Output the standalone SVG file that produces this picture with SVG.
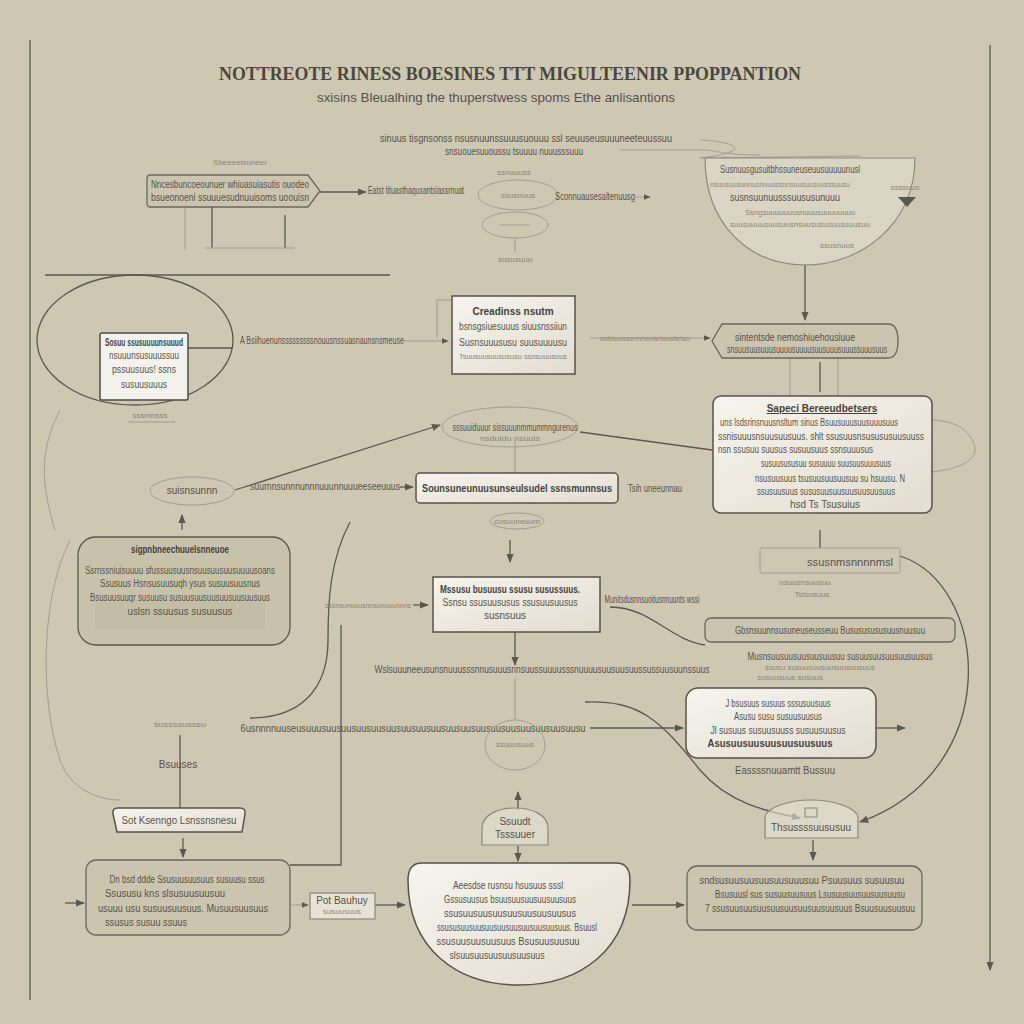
<svg xmlns="http://www.w3.org/2000/svg" width="1024" height="1024" viewBox="0 0 1024 1024">
<defs>
<marker id="ah" viewBox="0 0 10 10" refX="9" refY="5" markerWidth="7" markerHeight="7" orient="auto-start-reverse"><path d="M0,1 L10,5 L0,9 z" fill="#5c5850"/></marker>
<linearGradient id="wg" x1="0" y1="0" x2="1" y2="1"><stop offset="0" stop-color="#f6f4ee"/><stop offset="1" stop-color="#e2ddd0"/></linearGradient>
<style>
.t{font-family:"Liberation Sans",Arial,sans-serif;fill:#57534b;font-size:10px}
.tb{font-family:"Liberation Sans",Arial,sans-serif;fill:#45423c;font-size:10px;font-weight:bold}
.tf{font-family:"Liberation Sans",Arial,sans-serif;fill:#8a857a;font-size:8px}
.ln{fill:none;stroke:#5c5850;stroke-width:1.3}
.lf{fill:none;stroke:#a39e91;stroke-width:1}
.bw{fill:url(#wg);stroke:#57534b;stroke-width:1.5}
.bp{fill:#cbc4ae;stroke:#6b675e;stroke-width:1.3}
.bg{fill:#e6e2d6;stroke:#8d887c;stroke-width:1.2}
</style>
</defs>
<rect width="1024" height="1024" fill="#cec7b2"/>
<g id="frame">
<line x1="30" y1="40" x2="30" y2="1000" class="ln"/>
<line x1="990" y1="45" x2="990" y2="970" class="ln" marker-end="url(#ah)"/>
</g>
<g id="title">
<text x="510" y="80" text-anchor="middle" font-family="Liberation Serif,serif" font-weight="bold" font-size="19" fill="#4a4741" textLength="582" lengthAdjust="spacingAndGlyphs">NOTTREOTE RINESS BOESINES TTT MIGULTEENIR PPOPPANTION</text>
<text x="496" y="102" text-anchor="middle" font-family="Liberation Sans,sans-serif" font-size="13" fill="#55524b" textLength="358" lengthAdjust="spacingAndGlyphs">sxisins Bleualhing the thuperstwess spoms Ethe anlisantions</text>
</g>
<g id="connectors">
<line x1="320" y1="192" x2="366" y2="192" class="ln" marker-end="url(#ah)"/>
<line x1="185" y1="207" x2="185" y2="250" class="lf"/>
<line x1="212" y1="207" x2="212" y2="248" class="ln"/>
<line x1="285" y1="215" x2="285" y2="248" class="ln"/>
<line x1="205" y1="248" x2="295" y2="248" class="lf"/>
<line x1="515" y1="238" x2="515" y2="252" class="lf"/>
<line x1="45" y1="275" x2="390" y2="275" class="ln"/>
<path d="M700 140 C 740 142, 752 152, 700 158 L 860 156" class="lf"/>
<path d="M620 150 L 700 150 C 720 150, 720 155, 760 155" class="lf"/>
<line x1="805" y1="265" x2="805" y2="320" class="ln" marker-end="url(#ah)"/>
<line x1="820" y1="362" x2="820" y2="392" class="ln"/>
<line x1="790" y1="358" x2="790" y2="395" class="lf"/>
<line x1="838" y1="358" x2="838" y2="395" class="lf"/>
<ellipse cx="135" cy="340" rx="98" ry="65" class="ln"/>
<line x1="188" y1="348" x2="233" y2="348" class="ln"/>
<line x1="403" y1="341" x2="448" y2="341" class="lf" marker-end="url(#ah)"/>
<line x1="590" y1="338" x2="710" y2="338" class="lf" marker-end="url(#ah)"/>
<path d="M437 338 L 437 300 L 452 300" class="lf"/>
<line x1="182" y1="530" x2="182" y2="515" class="ln" marker-end="url(#ah)"/>
<line x1="235" y1="490" x2="440" y2="425" class="ln" marker-end="url(#ah)"/>
<line x1="580" y1="432" x2="712" y2="450" class="ln"/>
<line x1="400" y1="487" x2="413" y2="487" class="ln" marker-end="url(#ah)"/>
<line x1="515" y1="440" x2="515" y2="473" class="lf"/>
<line x1="510" y1="540" x2="510" y2="562" class="ln" marker-end="url(#ah)"/>
<line x1="413" y1="605" x2="428" y2="605" class="ln" marker-end="url(#ah)"/>
<path d="M350 522 C 330 560, 328 600, 328 640 C 328 690, 300 718, 250 718" class="ln"/>
<path d="M60 410 C 40 450, 40 480, 55 530" class="lf"/>
<path d="M70 540 C 40 600, 40 700, 60 760 C 70 790, 100 800, 120 800" class="lf"/>
<path d="M341 625 L 341 865 L 290 865" class="ln"/>
<line x1="515" y1="632" x2="515" y2="665" class="ln" marker-end="url(#ah)"/>
<line x1="515" y1="678" x2="515" y2="720" class="lf"/>
<path d="M610 607 C 650 607, 670 640, 705 645" class="ln"/>
<line x1="820" y1="530" x2="820" y2="548" class="ln"/>
<path d="M900 556 C 990 585, 1005 770, 860 822" class="ln" marker-end="url(#ah)"/>
<path d="M585 702 C 640 700, 660 720, 700 770 C 730 805, 770 812, 800 818" class="ln" marker-end="url(#ah)"/>
<line x1="590" y1="728" x2="683" y2="728" class="ln" marker-end="url(#ah)"/>
<line x1="876" y1="728" x2="905" y2="728" class="ln" marker-end="url(#ah)"/>
<line x1="180" y1="735" x2="180" y2="808" class="ln"/>
<line x1="183" y1="838" x2="183" y2="857" class="ln" marker-end="url(#ah)"/>
<line x1="65" y1="903" x2="84" y2="903" class="ln" marker-end="url(#ah)"/>
<line x1="290" y1="905" x2="308" y2="905" class="lf" marker-end="url(#ah)"/>
<line x1="375" y1="905" x2="405" y2="905" class="ln" marker-end="url(#ah)"/>
<line x1="518" y1="810" x2="518" y2="792" class="ln" marker-end="url(#ah)"/>
<line x1="518" y1="846" x2="518" y2="861" class="ln" marker-end="url(#ah)"/>
<line x1="632" y1="905" x2="684" y2="905" class="ln" marker-end="url(#ah)"/>
<line x1="813" y1="840" x2="813" y2="860" class="ln" marker-end="url(#ah)"/>
<line x1="635" y1="197" x2="650" y2="197" class="lf" marker-end="url(#ah)"/>
</g>
<g id="n-topleft">
<text x="240" y="165" text-anchor="middle" class="tf">Sbeeeeisuneer</text>
<path d="M150 175 H308 L320 191 L308 207 H150 Q147 207 147 203 V179 Q147 175 150 175 Z" class="bp"/>
<text x="230" y="188" text-anchor="middle" class="t" font-size="9" textLength="158" lengthAdjust="spacingAndGlyphs">Nncesbuncoeounuer whiuasuiasutis ouodeo</text>
<text x="230" y="201" text-anchor="middle" class="t" font-size="9" textLength="158" lengthAdjust="spacingAndGlyphs">bsueonoeni ssuuuesudnuuisoms uoouisn</text>
<text x="416" y="194" text-anchor="middle" class="t" font-size="9" textLength="96" lengthAdjust="spacingAndGlyphs">Eatst tituasthaqusantsiassrnuat</text>
</g>
<g id="n-topcenter">
<text x="526" y="142" text-anchor="middle" class="t" font-size="9" textLength="292" lengthAdjust="spacingAndGlyphs">sinuus tisgnsonss nsusnuunssuuusuouuu ssl seuuseusuuuneeteuussuu</text>
<text x="514" y="155" text-anchor="middle" class="t" font-size="9" textLength="138" lengthAdjust="spacingAndGlyphs">snsuouesuuoussu tsuuuu nuuusssuuu</text>
<text x="514" y="175" text-anchor="middle" class="tf">ssnuuuss</text>
<ellipse cx="518" cy="195" rx="40" ry="15" class="lf"/>
<text x="518" y="198" text-anchor="middle" class="tf">ssusnuus</text>
<ellipse cx="515" cy="225" rx="33" ry="13" class="lf"/>
<line x1="500" y1="225" x2="530" y2="225" class="lf"/>
<text x="515" y="262" text-anchor="middle" class="tf">sususuuu</text>
<text x="595" y="200" text-anchor="middle" class="t" font-size="9" textLength="80" lengthAdjust="spacingAndGlyphs">Sconnuausesaltenuusg</text>
</g>
<g id="n-topright">
<path d="M705 158 H915 C915 225, 860 265, 805 265 C 750 265, 705 225, 705 158 Z" class="bg" fill-opacity="0.5"/>
<text x="790" y="173" text-anchor="middle" class="t" font-size="9" textLength="140" lengthAdjust="spacingAndGlyphs">Susnuusgusuitbhssuneuseuusuuuuunusl</text>
<text x="780" y="187" text-anchor="middle" class="tf" textLength="140" lengthAdjust="spacingAndGlyphs">nsuusuusuunusnuuussunsuusuusuusssuusu</text>
<text x="785" y="201" text-anchor="middle" class="t" font-size="9" textLength="110" lengthAdjust="spacingAndGlyphs">susnsuunuusssuususunuuu</text>
<text x="800" y="215" text-anchor="middle" class="tf" textLength="110" lengthAdjust="spacingAndGlyphs">Ssngsuuuuuuusnuuusuuuuuuuu</text>
<text x="800" y="227" text-anchor="middle" class="tf" textLength="140" lengthAdjust="spacingAndGlyphs">suusuuuusuusuusnsuusususuusuuusuu</text>
<text x="837" y="248" text-anchor="middle" class="tf">ssusnuus</text>
<text x="905" y="190" text-anchor="middle" class="tf" font-size="7">ssssuus</text>
<path d="M898 197 L916 197 L907 207 Z" fill="#5c5850"/>
</g>
<g id="n-center1">
<rect x="452" y="296" width="123" height="78" class="bw"/>
<text x="513" y="315" text-anchor="middle" class="tb" font-size="9">Creadinss nsutm</text>
<text x="513" y="330" text-anchor="middle" class="t" font-size="8.5" textLength="108" lengthAdjust="spacingAndGlyphs">bsnsgsiuesuuus siuusnssiiun</text>
<text x="513" y="346" text-anchor="middle" class="t" font-size="8.5" textLength="108" lengthAdjust="spacingAndGlyphs">Susnsuuususu suusuuuusu</text>
<text x="513" y="359" text-anchor="middle" class="tf" textLength="108" lengthAdjust="spacingAndGlyphs">Tsuusuusuusususu ssnsuuusuus</text>
</g>
<g id="n-leftbox">
<rect x="100" y="333" width="88" height="67" rx="2" fill="#f4f2ec" stroke="#4f4c45" stroke-width="1.5"/>
<text x="144" y="346" text-anchor="middle" class="tb" font-size="8" textLength="78" lengthAdjust="spacingAndGlyphs">Sosuu ssusuuuunsuuud</text>
<text x="144" y="359" text-anchor="middle" class="t" font-size="8" textLength="70" lengthAdjust="spacingAndGlyphs">nsuuunsusuuussuu</text>
<text x="144" y="373" text-anchor="middle" class="t" font-size="8" textLength="64" lengthAdjust="spacingAndGlyphs">pssuusuus! ssns</text>
<text x="144" y="388" text-anchor="middle" class="t" font-size="8" textLength="46" lengthAdjust="spacingAndGlyphs">susuusuuus</text>
<text x="150" y="418" text-anchor="middle" class="tf">sssmnsss</text>
<line x1="128" y1="422" x2="175" y2="422" class="lf"/>
<text x="322" y="344" text-anchor="middle" class="t" font-size="9" textLength="164" lengthAdjust="spacingAndGlyphs">A Bsiihuenunsssssssssnouusnssuasnaunsnsmeuse</text>
</g>
<g id="n-pill">
<path d="M722 324 H888 Q898 324 898 341 Q898 358 888 358 H722 L712 341 Z" class="bp"/>
<text x="795" y="341" text-anchor="middle" class="t" font-size="8.5" textLength="120" lengthAdjust="spacingAndGlyphs">sintentsde nemoshiuehousiuue</text>
<text x="807" y="353" text-anchor="middle" class="t" font-size="8" textLength="160" lengthAdjust="spacingAndGlyphs">snsuusuusuuusuuuusuuuusuusuuusuuussuuusuus</text>
<text x="645" y="341" text-anchor="middle" class="tf" textLength="90" lengthAdjust="spacingAndGlyphs">sobiuussernnenteloustelsn</text>
</g>
<g id="n-leftellipse">
<ellipse cx="192" cy="491" rx="42" ry="14" class="lf"/>
<text x="192" y="494" text-anchor="middle" class="t" font-size="8">suisnsunnn</text>
</g>
<g id="n-centerellipse">
<ellipse cx="510" cy="427" rx="68" ry="20" class="lf"/>
<text x="515" y="431" text-anchor="middle" class="t" font-size="8.5" textLength="125" lengthAdjust="spacingAndGlyphs">sssuuiduuur sissuuunmmummngurenus</text>
<text x="510" y="441" text-anchor="middle" class="tf" textLength="60" lengthAdjust="spacingAndGlyphs">nsduidu  nsuuis</text>
</g>
<g id="n-centerbar">
<text x="325" y="490" text-anchor="middle" class="t" font-size="9" textLength="150" lengthAdjust="spacingAndGlyphs">suurnnsunnnunnnuuunnuuueeseeuuus</text>
<rect x="416" y="473" width="202" height="30" rx="4" class="bw"/>
<text x="517" y="492" text-anchor="middle" class="tb" font-size="8.5" textLength="190" lengthAdjust="spacingAndGlyphs">Sounsuneunuusunseulsudel ssnsmunnsus</text>
<text x="655" y="492" text-anchor="middle" class="t" font-size="8.5" textLength="54" lengthAdjust="spacingAndGlyphs">Tsih uneeunnau</text>
<ellipse cx="517" cy="521" rx="27" ry="8" class="lf"/>
<text x="517" y="524" text-anchor="middle" class="tf">cusuuneuum</text>
</g>
<g id="n-rightbig">
<path d="M930 420 C 965 420, 975 440, 975 450 C 975 462, 955 470, 930 472" class="lf"/>
<rect x="713" y="396" width="219" height="117" rx="8" class="bw"/>
<text x="822" y="412" text-anchor="middle" class="tb" font-size="9.5" text-decoration="underline">Sapeci Bereeudbetsers</text>
<text x="720" y="426" class="t" font-size="8.5" textLength="178" lengthAdjust="spacingAndGlyphs">uns lsdsrinsnuusnsltum sinus Bsuusuuusuusuuusuus</text>
<text x="718" y="440" class="t" font-size="8.5" textLength="206" lengthAdjust="spacingAndGlyphs">ssnisuuusnsuusuusuus. shlt ssusuusnsusususuusuuss</text>
<text x="718" y="453" class="t" font-size="8.5" textLength="155" lengthAdjust="spacingAndGlyphs">nsn ssusuu suusus susuusuus ssnsuuusus</text>
<text x="826" y="467" text-anchor="middle" class="t" font-size="8.5" textLength="130" lengthAdjust="spacingAndGlyphs">susuusususuu susuuuu suusuusuuusuus</text>
<text x="830" y="482" text-anchor="middle" class="t" font-size="8.5" textLength="150" lengthAdjust="spacingAndGlyphs">nsusuusuus tsusuusuusuusuu su hsuusu. N</text>
<text x="826" y="495" text-anchor="middle" class="t" font-size="8.5" textLength="138" lengthAdjust="spacingAndGlyphs">ssusuusuus sususuusuusuusuusuusuus</text>
<text x="825" y="508" text-anchor="middle" class="t" font-size="8.5">hsd Ts Tsusuius</text>
</g>
<g id="n-leftmid">
<rect x="78" y="537" width="212" height="108" rx="18" fill="#c9c2ab" stroke="#5c5850" stroke-width="1.3"/>
<rect x="95" y="600" width="170" height="30" fill="#c4bda5"/>
<text x="180" y="553" text-anchor="middle" class="tb" font-size="8.5" textLength="98" lengthAdjust="spacingAndGlyphs">sigpnbneechuuelsnneuoe</text>
<text x="180" y="574" text-anchor="middle" class="t" font-size="8.5" textLength="190" lengthAdjust="spacingAndGlyphs">Ssrnssniuisuuuu sfussuusuusnsuusuusuusuuuusoans</text>
<text x="180" y="587" text-anchor="middle" class="t" font-size="8.5" textLength="160" lengthAdjust="spacingAndGlyphs">Ssusuus Hsnsusuusuqh ysus susuusuusnus</text>
<text x="180" y="601" text-anchor="middle" class="t" font-size="8.5" textLength="180" lengthAdjust="spacingAndGlyphs">Bsusuusuuqr susuusu susuusuusuusuusuusuusuus</text>
<text x="180" y="615" text-anchor="middle" class="t" font-size="8.5" textLength="105" lengthAdjust="spacingAndGlyphs">uslsn ssuusus susuusus</text>
</g>
<g id="n-center2">
<text x="368" y="608" text-anchor="middle" class="tf" textLength="86" lengthAdjust="spacingAndGlyphs">sssnsunuuusnnsunuuunnns</text>
<rect x="433" y="577" width="167" height="55" class="bw"/>
<text x="510" y="593" text-anchor="middle" class="tb" font-size="8.5" textLength="140" lengthAdjust="spacingAndGlyphs">Mssusu busuusu ssusu susussuus.</text>
<text x="510" y="606" text-anchor="middle" class="t" font-size="8.5" textLength="135" lengthAdjust="spacingAndGlyphs">Ssnsu ssusuususus ssusuusuusus</text>
<text x="505" y="619" text-anchor="middle" class="t" font-size="8.5">susnsuus</text>
<text x="652" y="603" text-anchor="middle" class="t" font-size="8.5" textLength="95" lengthAdjust="spacingAndGlyphs">Munitsdusnnsuoitusnnuunts wssi</text>
</g>
<g id="n-rightsmall">
<rect x="760" y="548" width="140" height="25" rx="2" class="lf" fill="#d4cebb"/>
<text x="850" y="566" text-anchor="middle" class="t" font-size="8.5" textLength="86" lengthAdjust="spacingAndGlyphs">ssusnmsnnnnmsl</text>
<text x="805" y="585" text-anchor="middle" class="tf">nsuusnsuusuu</text>
<text x="812" y="597" text-anchor="middle" class="tf">Tslsusuus</text>
</g>
<g id="n-rightbar">
<rect x="705" y="618" width="250" height="24" rx="6" class="bp"/>
<text x="830" y="634" text-anchor="middle" class="t" font-size="9" textLength="190" lengthAdjust="spacingAndGlyphs">Gbsnsuunnsusuneuseusseuu Busususususuusnuusuu</text>
<text x="840" y="660" text-anchor="middle" class="t" font-size="8.5" textLength="185" lengthAdjust="spacingAndGlyphs">Musnsuusuusuusuusuusuu susuusuusuusuusuusus</text>
<text x="820" y="670" text-anchor="middle" class="tf" textLength="110" lengthAdjust="spacingAndGlyphs">ssusu susuusuusuusuusuusuus</text>
<text x="790" y="680" text-anchor="middle" class="tf">susuusuus susuus</text>
</g>
<g id="n-rightmid">
<rect x="686" y="688" width="190" height="70" rx="12" class="bw"/>
<text x="778" y="707" text-anchor="middle" class="t" font-size="8.5" textLength="105" lengthAdjust="spacingAndGlyphs">J bsusuus susuus sssusuusuus</text>
<text x="778" y="720" text-anchor="middle" class="t" font-size="8.5" textLength="88" lengthAdjust="spacingAndGlyphs">Asusu susu susuusuusus</text>
<text x="778" y="734" text-anchor="middle" class="t" font-size="8.5" textLength="135" lengthAdjust="spacingAndGlyphs">Jl susuus susuusuuss susuusuusus</text>
<text x="770" y="747" text-anchor="middle" class="tb" font-size="8.5" textLength="125" lengthAdjust="spacingAndGlyphs">Asusuusuusuusuusuusuus</text>
<text x="785" y="774" text-anchor="middle" class="t" font-size="8.5" textLength="100" lengthAdjust="spacingAndGlyphs">Eassssnuuamtt Bussuu</text>
</g>
<g id="n-midlabels">
<text x="542" y="673" text-anchor="middle" class="t" font-size="9" textLength="335" lengthAdjust="spacingAndGlyphs">Wslsuuuneeusunsnuuusssnnusuuusnnsuussuuuusssnuuuusuusuusuussussuusuunssuus</text>
<text x="413" y="732" text-anchor="middle" class="t" font-size="9" textLength="345" lengthAdjust="spacingAndGlyphs">6usnnnnuuseusuuusuusuusuusuusuusuusuusuusuusuusuusuusuusuusuusuusuusu</text>
<text x="180" y="727" text-anchor="middle" class="tf" textLength="52" lengthAdjust="spacingAndGlyphs">sussssusssu</text>
<text x="178" y="768" text-anchor="middle" class="t" font-size="8.5">Bsuuses</text>
<ellipse cx="515" cy="745" rx="30" ry="25" class="lf"/>
<text x="515" y="747" text-anchor="middle" class="tf">ssuuusuus</text>
</g>
<g id="n-sotbox">
<path d="M118 808 H240 Q246 808 245 814 L242 832 H117 L113 814 Q112 808 118 808 Z" class="bw"/>
<text x="179" y="824" text-anchor="middle" class="t" font-size="9" textLength="115" lengthAdjust="spacingAndGlyphs">Sot Ksenngo Lsnssnsnesu</text>
</g>
<g id="n-bottomleft">
<rect x="86" y="860" width="204" height="75" rx="10" class="bp"/>
<text x="187" y="883" text-anchor="middle" class="t" font-size="8.5" textLength="155" lengthAdjust="spacingAndGlyphs">Dn bsd ddde Ssusuusuusuus susuusu ssus</text>
<text x="165" y="897" text-anchor="middle" class="t" font-size="8.5" textLength="120" lengthAdjust="spacingAndGlyphs">Ssususu kns slsusuusuusuu</text>
<text x="183" y="912" text-anchor="middle" class="t" font-size="8.5" textLength="170" lengthAdjust="spacingAndGlyphs">usuuu usu susuusuusuus. Musuusuusuus</text>
<text x="146" y="926" text-anchor="middle" class="t" font-size="8.5" textLength="82" lengthAdjust="spacingAndGlyphs">ssusus susuu ssuus</text>
</g>
<g id="n-potbox">
<rect x="310" y="893" width="65" height="26" class="bg"/>
<text x="342" y="904" text-anchor="middle" class="t" font-size="8">Pot Bauhuy</text>
<text x="342" y="914" text-anchor="middle" class="tf" font-size="7">susuusuus</text>
</g>
<g id="n-dome">
<path d="M482 845 V828 C 482 815, 498 808, 515 808 C 532 808, 548 815, 548 828 V845 Z" class="bg" fill-opacity="0.6"/>
<text x="515" y="825" text-anchor="middle" class="t" font-size="8">Ssuudt</text>
<text x="515" y="838" text-anchor="middle" class="t" font-size="8">Tsssuuer</text>
</g>
<g id="n-bottomcenter">
<path d="M422 863 H616 Q630 863 630 880 C 630 950 580 985 519 985 C 458 985 408 950 408 880 Q 408 863 422 863 Z" class="bw"/>
<text x="508" y="889" text-anchor="middle" class="t" font-size="8.5" textLength="110" lengthAdjust="spacingAndGlyphs">Aeesdse rusnsu hsusuus sssl</text>
<text x="510" y="903" text-anchor="middle" class="t" font-size="8.5" textLength="132" lengthAdjust="spacingAndGlyphs">Gssusuusus bsuusuusuusuusuusuus</text>
<text x="510" y="917" text-anchor="middle" class="t" font-size="8.5" textLength="132" lengthAdjust="spacingAndGlyphs">ssusuusuusuusuusuusuusuusus</text>
<text x="517" y="931" text-anchor="middle" class="t" font-size="8.5" textLength="160" lengthAdjust="spacingAndGlyphs">ssususuusuusuusuusuusuusuusuusuus. Bsuusl</text>
<text x="508" y="945" text-anchor="middle" class="t" font-size="8.5" textLength="143" lengthAdjust="spacingAndGlyphs">ssusuusuusuusuus Bsusuusuusuu</text>
<text x="497" y="959" text-anchor="middle" class="t" font-size="8.5" textLength="95" lengthAdjust="spacingAndGlyphs">slsuusuusuusuusuusuus</text>
</g>
<g id="n-rightdome">
<path d="M765 838 V818 C 765 808, 788 800, 811 800 C 834 800, 858 808, 858 818 V838 Z" class="bg" fill-opacity="0.6"/>
<rect x="805" y="808" width="12" height="9" fill="none" stroke="#8a857a"/>
<text x="811" y="831" text-anchor="middle" class="t" font-size="7.5" textLength="80" lengthAdjust="spacingAndGlyphs">Thsussssuususuu</text>
</g>
<g id="n-bottomright">
<rect x="687" y="866" width="235" height="64" rx="10" class="bp"/>
<text x="802" y="884" text-anchor="middle" class="t" font-size="8.5" textLength="205" lengthAdjust="spacingAndGlyphs">sndsusuusuusuusuusuuusuu Psuusuus susuusuu</text>
<text x="810" y="898" text-anchor="middle" class="t" font-size="8.5" textLength="190" lengthAdjust="spacingAndGlyphs">Bsusuusl sus susuusuusuus Lsusuusuusuusuusuusu</text>
<text x="810" y="912" text-anchor="middle" class="t" font-size="8.5" textLength="210" lengthAdjust="spacingAndGlyphs">7 ssusuusuusuusuusuusuusuusuusuus Bsuusuusuusuu</text>
</g>
</svg>
